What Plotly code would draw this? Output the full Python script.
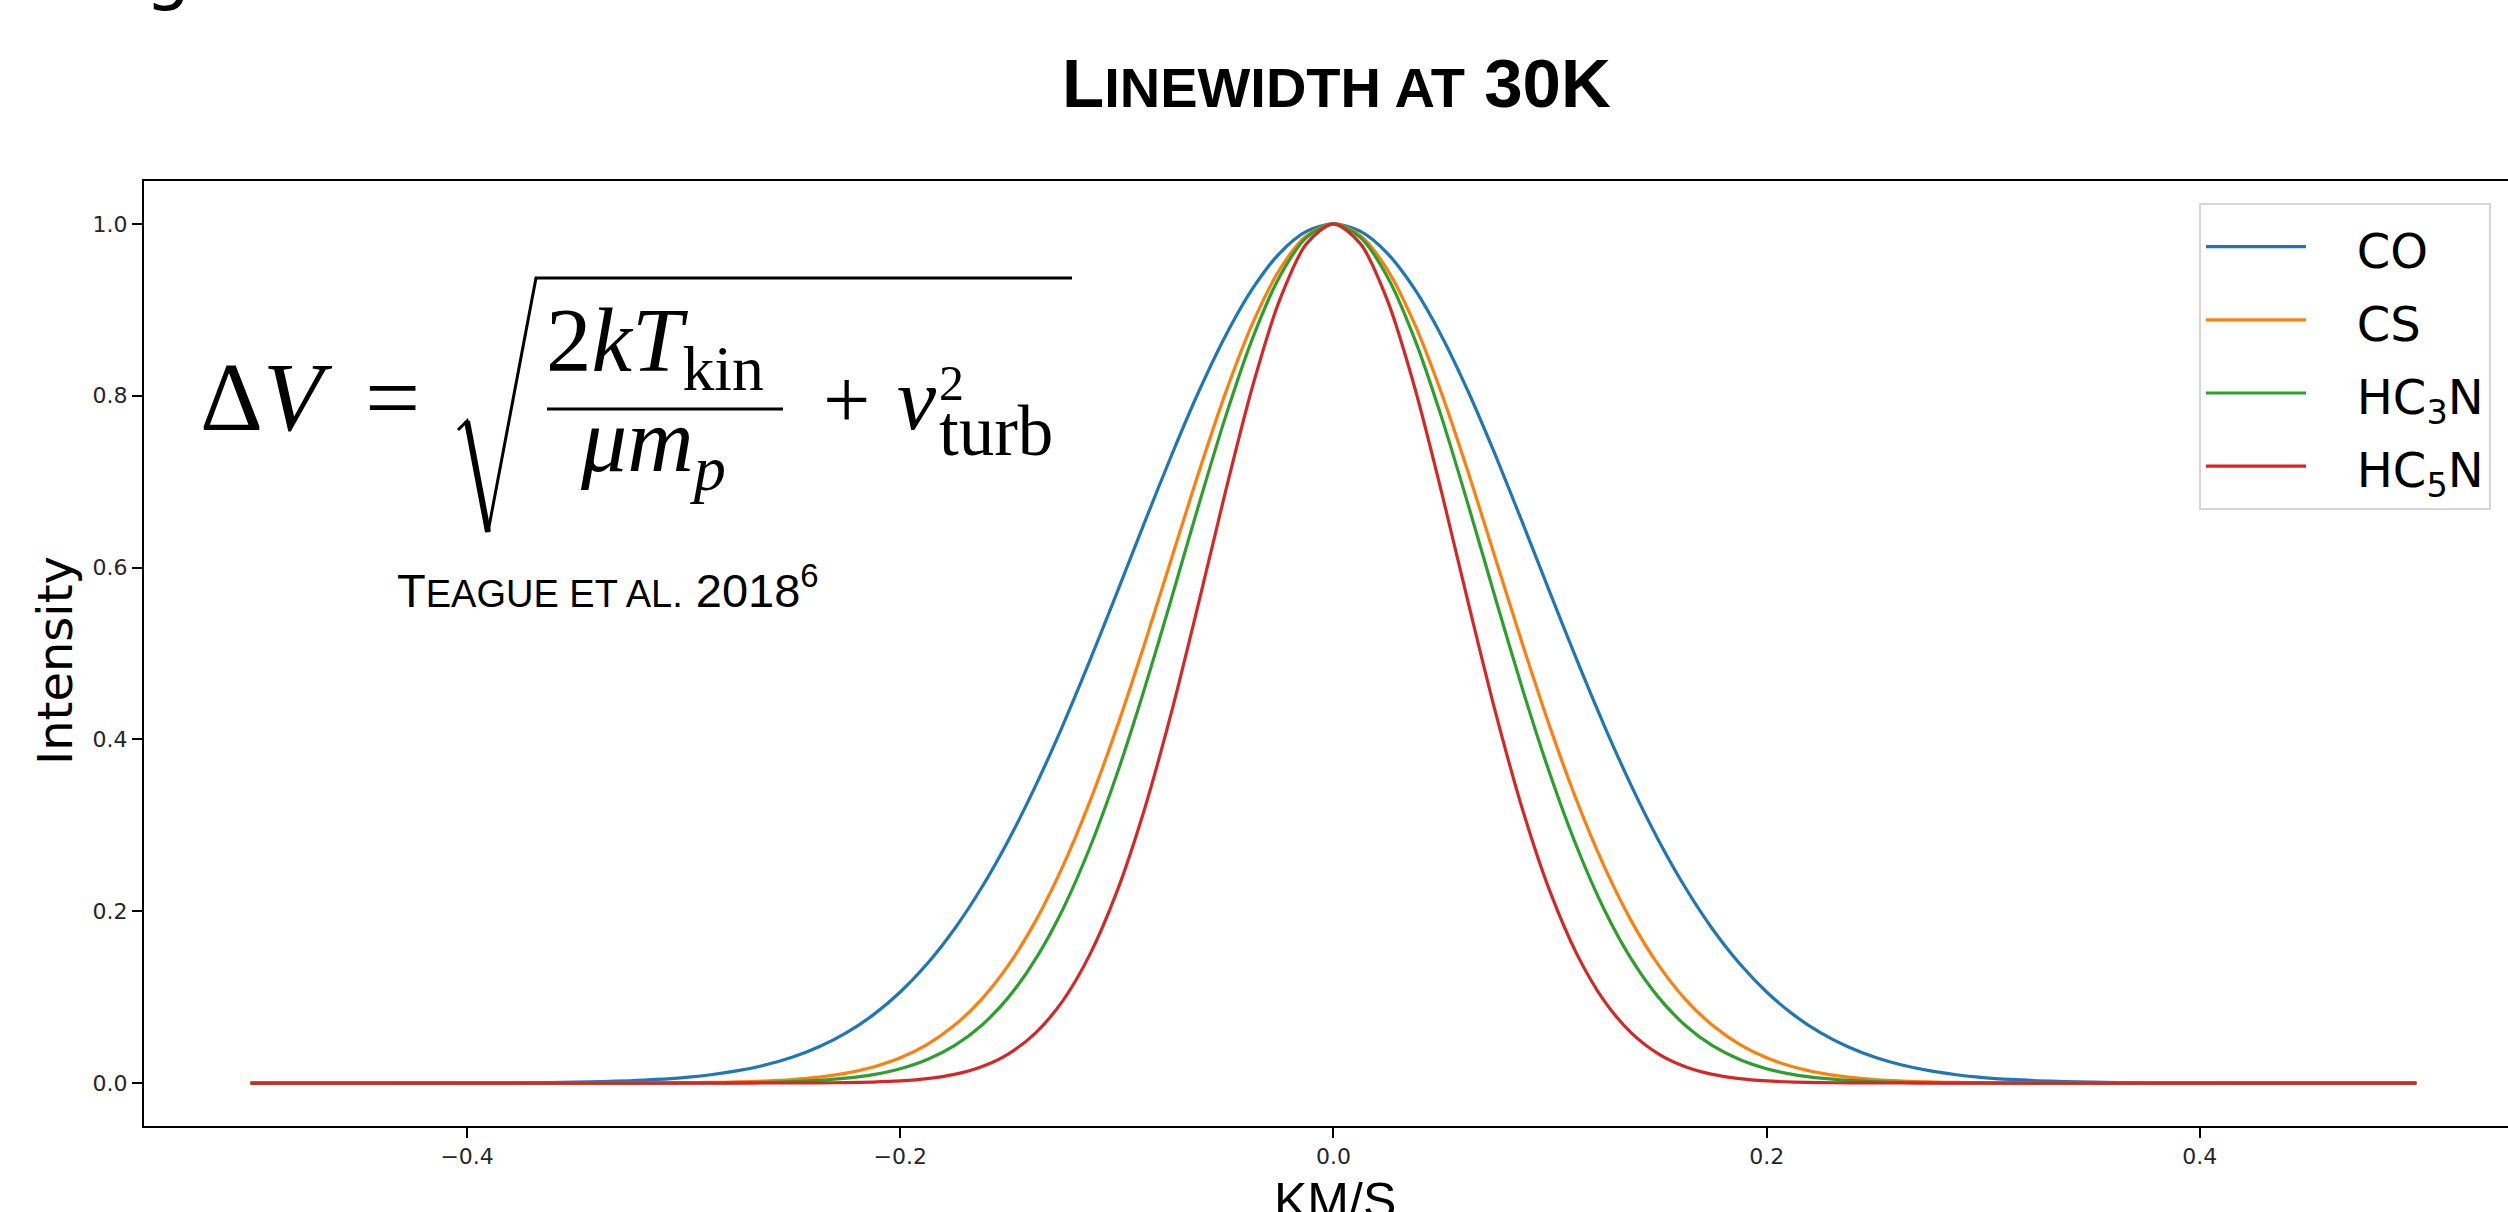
import plotly.graph_objects as go

# ---------------- data ----------------
velocity_kms = [
    -0.5, -0.4875, -0.475, -0.4625, -0.45, -0.4375, -0.425, -0.4125, -0.4, -0.3875,
    -0.375, -0.3625, -0.35, -0.3375, -0.325, -0.3125, -0.3, -0.2875, -0.275, -0.2625,
    -0.25, -0.2375, -0.225, -0.2125, -0.2, -0.1875, -0.175, -0.1625, -0.15, -0.1375,
    -0.125, -0.1125, -0.1, -0.0875, -0.075, -0.0625, -0.05, -0.0375, -0.025, -0.0125,
    0.0,
    0.0125, 0.025, 0.0375, 0.05, 0.0625, 0.075, 0.0875, 0.1, 0.1125, 0.125,
    0.1375, 0.15, 0.1625, 0.175, 0.1875, 0.2, 0.2125, 0.225, 0.2375, 0.25,
    0.2625, 0.275, 0.2875, 0.3, 0.3125, 0.325, 0.3375, 0.35, 0.3625, 0.375,
    0.3875, 0.4, 0.4125, 0.425, 0.4375, 0.45, 0.4625, 0.475, 0.4875, 0.5,
]

intensity_co = [
    0.0, 0.0, 0.0, 0.0, 0.00001, 0.00002, 0.00004, 0.00007, 0.00013, 0.00022,
    0.00037, 0.00063, 0.00104, 0.00168, 0.00267, 0.00417, 0.00641, 0.00968, 0.01437, 0.02094,
    0.02999, 0.04221, 0.05838, 0.07936, 0.10596, 0.13911, 0.17936, 0.22729, 0.28298, 0.34618,
    0.41617, 0.49160, 0.57059, 0.65079, 0.72933, 0.80319, 0.86912, 0.92414, 0.96554, 0.99127,
    1.0,
    0.99127, 0.96554, 0.92414, 0.86912, 0.80319, 0.72933, 0.65079, 0.57059, 0.49160, 0.41617,
    0.34618, 0.28298, 0.22729, 0.17936, 0.13911, 0.10596, 0.07936, 0.05838, 0.04221, 0.02999,
    0.02094, 0.01437, 0.00968, 0.00641, 0.00417, 0.00267, 0.00168, 0.00104, 0.00063, 0.00037,
    0.00022, 0.00013, 0.00007, 0.00004, 0.00002, 0.00001, 0.0, 0.0, 0.0, 0.0,
]

intensity_cs = [
    0.0, 0.0, 0.0, 0.0, 0.0, 0.0, 0.0, 0.0, 0.0, 0.0,
    0.0, 0.00001, 0.00002, 0.00004, 0.00009, 0.00018, 0.00036, 0.00068, 0.00127, 0.00230,
    0.00404, 0.00691, 0.01151, 0.01865, 0.02938, 0.04503, 0.06718, 0.09744, 0.13751, 0.18879,
    0.25213, 0.32756, 0.41404, 0.50911, 0.60895, 0.70857, 0.80218, 0.88338, 0.94638, 0.98632,
    1.0,
    0.98632, 0.94638, 0.88338, 0.80218, 0.70857, 0.60895, 0.50911, 0.41404, 0.32756, 0.25213,
    0.18879, 0.13751, 0.09744, 0.06718, 0.04503, 0.02938, 0.01865, 0.01151, 0.00691, 0.00404,
    0.00230, 0.00127, 0.00068, 0.00036, 0.00018, 0.00009, 0.00004, 0.00002, 0.00001, 0.0,
    0.0, 0.0, 0.0, 0.0, 0.0, 0.0, 0.0, 0.0, 0.0, 0.0,
]

intensity_hc3n = [
    0.0, 0.0, 0.0, 0.0, 0.0, 0.0, 0.0, 0.0, 0.0, 0.0,
    0.0, 0.0, 0.0, 0.00001, 0.00002, 0.00005, 0.00010, 0.00021, 0.00044, 0.00087,
    0.00167, 0.00311, 0.00563, 0.00984, 0.01668, 0.02740, 0.04354, 0.06704, 0.10000, 0.14448,
    0.20208, 0.27386, 0.35939, 0.45683, 0.56236, 0.67050, 0.77428, 0.86597, 0.93804, 0.98414,
    1.0,
    0.98414, 0.93804, 0.86597, 0.77428, 0.67050, 0.56236, 0.45683, 0.35939, 0.27386, 0.20208,
    0.14448, 0.10000, 0.06704, 0.04354, 0.02740, 0.01668, 0.00984, 0.00563, 0.00311, 0.00167,
    0.00087, 0.00044, 0.00021, 0.00010, 0.00005, 0.00002, 0.00001, 0.0, 0.0, 0.0,
    0.0, 0.0, 0.0, 0.0, 0.0, 0.0, 0.0, 0.0, 0.0, 0.0,
]

intensity_hc5n = [
    0.0, 0.0, 0.0, 0.0, 0.0, 0.0, 0.0, 0.0, 0.0, 0.0,
    0.0, 0.0, 0.0, 0.0, 0.0, 0.0, 0.0, 0.0, 0.00001, 0.00003,
    0.00008, 0.00021, 0.00050, 0.00113, 0.00246, 0.00509, 0.01006, 0.01896, 0.03408, 0.05846,
    0.09570, 0.14950, 0.22277, 0.31671, 0.42968, 0.55619, 0.68696, 0.80963, 0.91041, 0.97681,
    1.0,
    0.97681, 0.91041, 0.80963, 0.68696, 0.55619, 0.42968, 0.31671, 0.22277, 0.14950, 0.09570,
    0.05846, 0.03408, 0.01896, 0.01006, 0.00509, 0.00246, 0.00113, 0.00050, 0.00021, 0.00008,
    0.00003, 0.00001, 0.0, 0.0, 0.0, 0.0, 0.0, 0.0, 0.0, 0.0,
    0.0, 0.0, 0.0, 0.0, 0.0, 0.0, 0.0, 0.0, 0.0, 0.0,
]

series_names = ["CO", "CS", "HC<sub>3</sub>N", "HC<sub>5</sub>N"]
series_values = [intensity_co, intensity_cs, intensity_hc3n, intensity_hc5n]
series_colors = ["#1f77b4", "#ff7f0e", "#2ca02c", "#d62728"]

x_tick_vals = [-0.4, -0.2, 0.0, 0.2, 0.4]
y_tick_vals = [0.0, 0.2, 0.4, 0.6, 0.8, 1.0]

# ---------------- figure ----------------
W, H = 2508, 1212
L, R, T, B = 144, 2508, 181, 1126


def px(x):
    return (x - L) / (R - L)


def py(y):
    return (B - y) / (B - T)


fig = go.Figure()
for name, vals, col in zip(series_names, series_values, series_colors):
    fig.add_trace(go.Scatter(
        x=velocity_kms, y=vals, mode="lines",
        name="<span style='font-size:48px'>\u00a0\u00a0\u00a0" + name + "</span>",
        line=dict(color=col, width=3.2, shape="spline", smoothing=0.8),
    ))

tick_font = dict(family="DejaVu Sans", size=22, color="#262626")
fig.update_xaxes(
    range=[-0.5492, 0.5423], tickvals=x_tick_vals, tickformat=".1f",
    showline=True, linecolor="black", linewidth=2, mirror=True,
    ticks="outside", ticklen=10, tickwidth=1.5, tickcolor="black",
    showgrid=False, zeroline=False, tickfont=tick_font,
)
fig.update_yaxes(
    range=[-0.05, 1.05], tickvals=y_tick_vals, tickformat=".1f",
    showline=True, linecolor="black", linewidth=2, mirror=False,
    ticks="outside", ticklen=10, tickwidth=1.5, tickcolor="black",
    showgrid=False, zeroline=False, tickfont=tick_font,
)

serif = "Liberation Serif, DejaVu Serif, serif"
narrow = "Liberation Sans Narrow, Arial Narrow, Liberation Sans, sans-serif"

annotations = [
    # title
    dict(text="L<span style='font-size:56px'>INEWIDTH AT</span> 30K",
         x=px(1336), y=py(83), xanchor="center", yanchor="middle",
         font=dict(family=narrow, size=69, color="black", weight="bold")),
    # reference
    dict(text="T<span style='font-size:38px'>EAGUE ET AL.</span> 2018<sup>6</sup>",
         x=px(396), y=py(587), xanchor="left", yanchor="middle",
         font=dict(family=narrow, size=47, color="black")),
    # formula pieces
    dict(text="Δ<i>V</i>", x=px(199), y=py(397), xanchor="left", yanchor="middle",
         font=dict(family=serif, size=98, color="black")),
    dict(text="=", x=px(392), y=py(397), xanchor="center", yanchor="middle",
         font=dict(family=serif, size=98, color="black")),
    dict(text="2<i>kT</i><sub>kin</sub>", x=px(545), y=py(347), xanchor="left", yanchor="middle",
         font=dict(family=serif, size=91, color="black")),
    dict(text="<i>μm</i><sub><i>p</i></sub>", x=px(579), y=py(447), xanchor="left", yanchor="middle",
         font=dict(family=serif, size=92, color="black")),
    dict(text="+", x=px(846), y=py(399), xanchor="center", yanchor="middle",
         font=dict(family=serif, size=84, color="black")),
    dict(text="<i>v</i>", x=px(896), y=py(400), xanchor="left", yanchor="middle",
         font=dict(family=serif, size=88, color="black")),
    dict(text="2", x=px(938), y=py(383), xanchor="left", yanchor="middle",
         font=dict(family=serif, size=50, color="black")),
    dict(text="turb", x=px(938), y=py(431), xanchor="left", yanchor="middle",
         font=dict(family=serif, size=71, color="black")),
    # axis titles
    dict(text="Intensity", x=px(55), y=py(661), xanchor="center", yanchor="middle",
         textangle=-90, font=dict(family="DejaVu Sans", size=48, color="black")),
    dict(text="KM/S", x=px(1335), y=py(1172), xanchor="center", yanchor="top",
         font=dict(family=narrow, size=50, color="black")),
    # cropped heading glyph at the top-left edge
    dict(text="g", x=px(168), y=py(14), xanchor="center", yanchor="bottom",
         font=dict(family="DejaVu Sans", size=72, color="black")),
]
for a in annotations:
    a.update(xref="paper", yref="paper", showarrow=False, borderpad=0)

k = "black"
shapes = [
    # radical sign
    dict(type="path", xref="paper", yref="paper",
         path=f"M{px(458)},{py(430)} L{px(467)},{py(421)} L{px(488)},{py(532)} "
              f"L{px(536)},{py(278)} L{px(1072)},{py(278)}",
         line=dict(color=k, width=3)),
    dict(type="line", xref="paper", yref="paper",
         x0=px(467), y0=py(421), x1=px(488), y1=py(532), line=dict(color=k, width=6)),
    # fraction bar
    dict(type="line", xref="paper", yref="paper",
         x0=px(547), y0=py(409), x1=px(783), y1=py(409), line=dict(color=k, width=3)),
]

fig.update_layout(
    width=W, height=H, autosize=False,
    margin=dict(l=L, r=W - R, t=T, b=H - B, pad=0),
    paper_bgcolor="white", plot_bgcolor="white",
    showlegend=True,
    legend=dict(x=px(2199), y=py(203), xanchor="left", yanchor="top",
                font=dict(family="DejaVu Sans", size=54, color="black"),
                bgcolor="rgba(255,255,255,0.8)", bordercolor="#d6d6d6", borderwidth=2,
                itemwidth=100),
    annotations=annotations, shapes=shapes,
)

fig.write_html("out.html")
